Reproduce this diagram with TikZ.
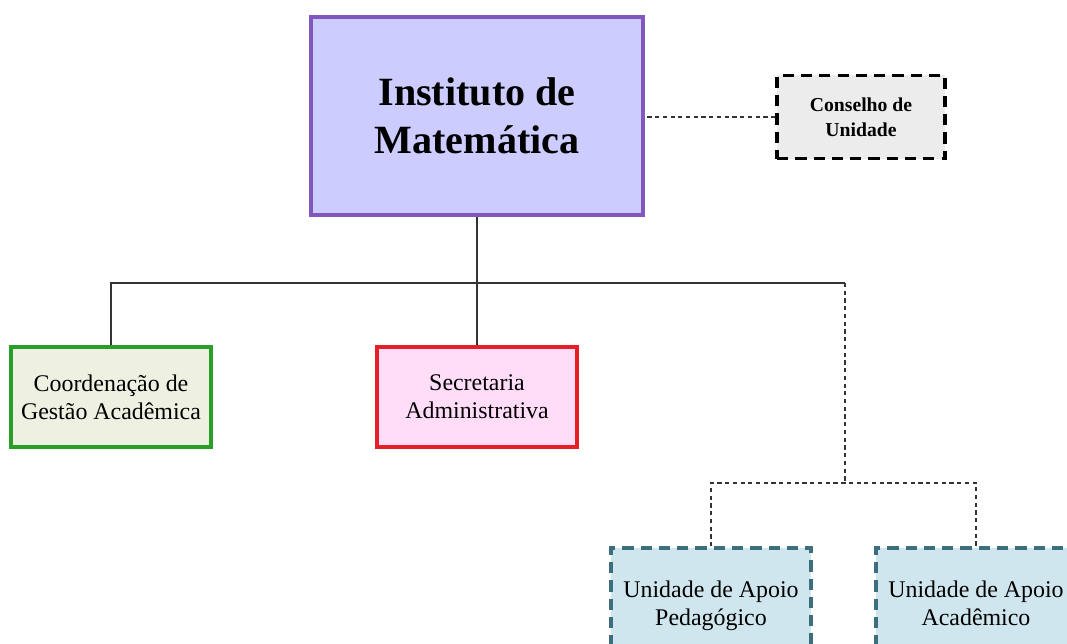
\documentclass[tikz,border=0pt]{standalone}
\usepackage{fontspec}
\setmainfont{Liberation Serif}
\definecolor{mainfill}{RGB}{204,204,255}
\definecolor{maindraw}{RGB}{128,88,190}
\definecolor{consfill}{RGB}{236,236,236}
\definecolor{coordfill}{RGB}{238,240,226}
\definecolor{coorddraw}{RGB}{40,160,40}
\definecolor{secfill}{RGB}{255,220,248}
\definecolor{secdraw}{RGB}{230,30,40}
\definecolor{unfill}{RGB}{208,230,238}
\definecolor{undraw}{RGB}{60,110,125}

\begin{document}
\begin{tikzpicture}[x=0.025cm, y=-0.025cm,
    box/.style = {draw, line width=2.4pt, align=center, inner sep=0pt},
    unitbox/.style = {box, minimum width=5cm, minimum height=2.5cm,
      font=\fontsize{17}{20}\selectfont},
    dashbox/.style = {dash pattern=on 8pt off 5pt},
    conn/.style = {draw=black!80, line width=1pt},
    dotline/.style = {conn, dash pattern=on 3pt off 2.5pt}]
  \clip (0,0) rectangle (1067,644);
  \fill[white] (0,0) rectangle (1067,644);

  \node[box, draw=maindraw, fill=mainfill, minimum width=8.3cm, minimum height=4.95cm,
    font=\fontsize{28.5}{34}\selectfont\bfseries] (inst) at (477,116) {Instituto de\\Matemática};
  \node[box, dashbox, fill=consfill, minimum width=4.2cm, minimum height=2.075cm,
    font=\fontsize{14}{18}\selectfont\bfseries] (cons) at (861,117) {Conselho de\\Unidade};

  \node[unitbox, draw=coorddraw, fill=coordfill] (cga) at (111,397) {Coordenação de\\Gestão Acadêmica};
  \node[unitbox, draw=secdraw, fill=secfill] (sec) at (477,397) {Secretaria\\Administrativa};

  \node[unitbox, dashbox, draw=undraw, fill=unfill, minimum height=2.9cm] (uap) at (711,606) {\strut Unidade de Apoio\\Pedagógico\strut};
  \node[unitbox, dashbox, draw=undraw, fill=unfill, minimum height=2.9cm] (uaa) at (976,606) {\strut Unidade de Apoio\\Acadêmico\strut};

  \coordinate (junc) at (477,283);
  \coordinate (branch) at (845,283);
  \coordinate (split) at (845,483);

  \draw[dotline] (cons.west) -- (cons.west -| inst.east);
  \draw[conn] (inst.south) -- (junc);
  \draw[conn] (junc) -- (sec.north);
  \draw[conn] (cga.north) |- (branch);
  \draw[dotline] (branch) -- (split);
  \draw[dotline] (uap.north) |- (split) -| (uaa.north);
\end{tikzpicture}
\end{document}
